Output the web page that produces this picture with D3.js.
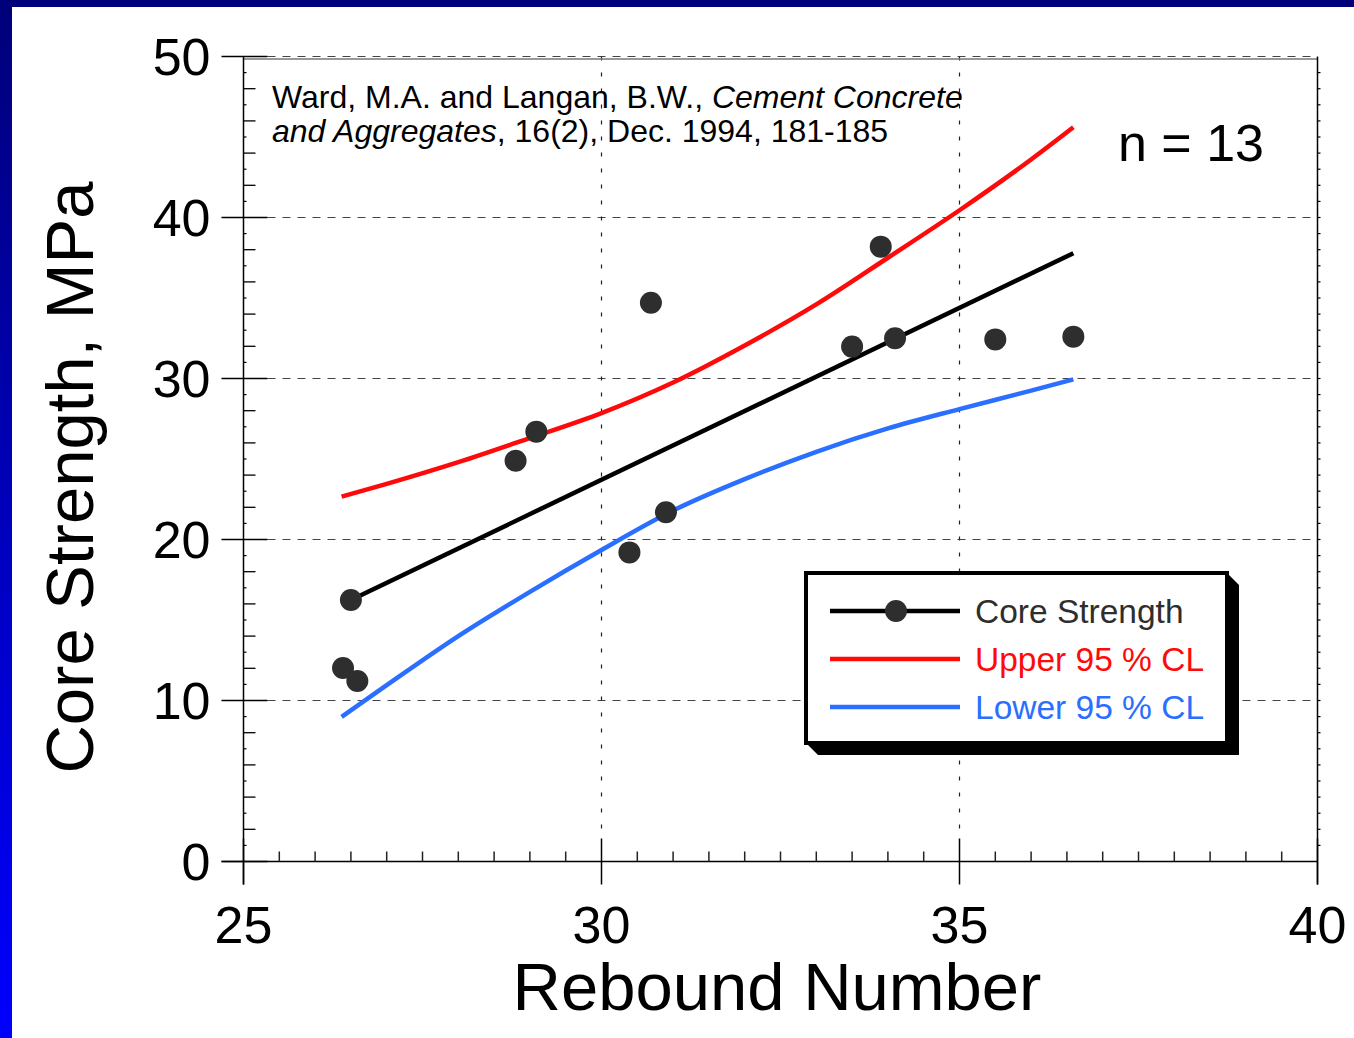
<!DOCTYPE html>
<html><head><meta charset="utf-8">
<script src="https://cdn.jsdelivr.net/npm/d3@7"></script>
<style>html,body{margin:0;padding:0;background:#fff;overflow:hidden}svg{display:block}text{font-family:"Liberation Sans",Arial,sans-serif}</style>
</head><body>
<svg id="c" width="1354" height="1038"></svg>
<script>
// ---- data ----
const xTicks = [25, 30, 35, 40];
const yTicks = [0, 10, 20, 30, 40, 50];
const rebound  = [26.39, 26.50, 26.59, 28.80, 29.09, 30.69, 30.39, 30.90, 33.50, 33.90, 34.10, 35.50, 36.59];
const strength = [12.02, 16.24, 11.21, 24.89, 26.70, 34.71, 19.20, 21.69, 31.98, 38.19, 32.50, 32.43, 32.60];
const fitX = [26.50, 36.59];
const fitY = [16.24, 37.78];
const upperX = [26.37, 27, 28, 29, 30, 31, 32, 33, 34, 35, 36, 36.59];
const upperY = [22.66, 23.45, 24.80, 26.30, 27.85, 29.75, 32.05, 34.60, 37.50, 40.45, 43.60, 45.60];
const lowerX = [26.37, 27, 28, 29, 30, 31, 32, 33, 34, 35, 36, 36.59];
const lowerY = [8.98, 10.95, 14.00, 16.75, 19.35, 21.80, 23.75, 25.45, 26.90, 28.10, 29.25, 29.95];
const legendNames = ["Core Strength", "Upper 95 % CL", "Lower 95 % CL"];
const legendColors = ["#000000", "#ff0a0a", "#2a6fff"];
const legendTextColors = ["#2e2e2e", "#ff0a0a", "#2a6fff"];
const citation1 = [["Ward, M.A. and Langan, B.W., ", "normal"], ["Cement Concrete", "italic"]];
const citation2 = [["and Aggregates", "italic"], [", 16(2), Dec. 1994, 181-185", "normal"]];
const nLabel = "n = 13";
const xTitle = "Rebound Number";
const yTitle = "Core Strength, MPa";

// ---- layout ----
const L = 243.5, R = 1317.5, T = 56.5, B = 861.5;
const x = d3.scaleLinear().domain([25, 40]).range([L, R]);
const y = d3.scaleLinear().domain([0, 50]).range([B, T]);
const svg = d3.select("#c");

// background frame (blue gradient border)
const defs = svg.append("defs");
const g1 = defs.append("linearGradient").attr("id", "lg").attr("x1", 0).attr("y1", 0).attr("x2", 0).attr("y2", 1);
g1.append("stop").attr("offset", "0%").attr("stop-color", "#00007a");
g1.append("stop").attr("offset", "100%").attr("stop-color", "#0000ff");
svg.append("rect").attr("x", 0).attr("y", 0).attr("width", 1354).attr("height", 1038).attr("fill", "#fff");
svg.append("rect").attr("x", 0).attr("y", 0).attr("width", 12).attr("height", 1038).attr("fill", "url(#lg)");
svg.append("rect").attr("x", 0).attr("y", 0).attr("width", 1354).attr("height", 7).attr("fill", "#00007a");

// grid
const gridY = yTicks.filter(v => v > 0);
svg.append("g").selectAll("line").data(gridY).join("line")
  .attr("x1", x(25) + 24).attr("x2", R).attr("y1", d => y(d)).attr("y2", d => y(d))
  .attr("stroke", "#444").attr("stroke-width", 1.2).attr("stroke-dasharray", "8,7");
const gridX = xTicks.filter(v => v > 25 && v < 40);
svg.append("g").selectAll("line").data(gridX).join("line")
  .attr("x1", d => x(d)).attr("x2", d => x(d)).attr("y1", T).attr("y2", B - 23)
  .attr("stroke", "#222").attr("stroke-width", 1.2).attr("stroke-dasharray", "4,12");

// top frame (gray)
svg.append("line").attr("x1", L).attr("x2", R).attr("y1", T + 2.5).attr("y2", T + 2.5).attr("stroke", "#777").attr("stroke-width", 1.5);

// axes lines
svg.append("line").attr("x1", L - 22).attr("x2", R).attr("y1", B).attr("y2", B).attr("stroke", "#000").attr("stroke-width", 1.5);
svg.append("line").attr("x1", L).attr("x2", L).attr("y1", T).attr("y2", B + 23).attr("stroke", "#000").attr("stroke-width", 1.5);
svg.append("line").attr("x1", R).attr("x2", R).attr("y1", T).attr("y2", B + 23).attr("stroke", "#000").attr("stroke-width", 1.5);

// y ticks
svg.append("g").selectAll("line").data(yTicks).join("line")
  .attr("x1", L - 22).attr("x2", L + 24).attr("y1", d => y(d)).attr("y2", d => y(d))
  .attr("stroke", "#000").attr("stroke-width", 1.5);
const yMinor2 = d3.range(0, 51, 2).filter(v => v % 10 !== 0);
svg.append("g").selectAll("line").data(yMinor2).join("line")
  .attr("x1", L).attr("x2", L + 12).attr("y1", d => y(d)).attr("y2", d => y(d))
  .attr("stroke", "#000").attr("stroke-width", 1.3);
const yMinor1 = d3.range(1, 50, 2);
svg.append("g").selectAll("line").data(yMinor1).join("line")
  .attr("x1", L).attr("x2", L + 3).attr("y1", d => y(d)).attr("y2", d => y(d))
  .attr("stroke", "#000").attr("stroke-width", 1.2);
svg.append("g").selectAll("line").data(d3.range(1, 50, 1)).join("line")
  .attr("x1", R).attr("x2", R + 3).attr("y1", d => y(d)).attr("y2", d => y(d))
  .attr("stroke", "#000").attr("stroke-width", 1.2);

// x ticks
svg.append("g").selectAll("line").data(xTicks).join("line")
  .attr("x1", d => x(d)).attr("x2", d => x(d)).attr("y1", B - 23).attr("y2", B + 23)
  .attr("stroke", "#000").attr("stroke-width", 1.5);
const xMinor = d3.range(25.5, 40, 0.5).filter(v => v % 5 !== 0);
svg.append("g").selectAll("line").data(xMinor).join("line")
  .attr("x1", d => x(d)).attr("x2", d => x(d)).attr("y1", B - 10).attr("y2", B)
  .attr("stroke", "#222").attr("stroke-width", 1.5);

// tick labels
svg.append("g").selectAll("text").data(yTicks).join("text")
  .attr("x", L - 33).attr("y", d => y(d)).attr("dy", "0.36em")
  .attr("text-anchor", "end").attr("font-size", 52).attr("fill", "#000").text(d => d);
svg.append("g").selectAll("text").data(xTicks).join("text")
  .attr("x", d => x(d)).attr("y", B + 81)
  .attr("text-anchor", "middle").attr("font-size", 52).attr("fill", "#000").text(d => d);

// axis titles
svg.append("text").attr("x", 777).attr("y", 1010).attr("text-anchor", "middle")
  .attr("font-size", 67).attr("fill", "#000").text(xTitle);
svg.append("text").attr("transform", `translate(93,${(183 + 772) / 2}) rotate(-90)`).attr("text-anchor", "middle")
  .attr("font-size", 67).attr("fill", "#000").text(yTitle);

// citation
const c1 = svg.append("text").attr("x", 272).attr("y", 108).attr("font-size", 32).attr("fill", "#000");
citation1.forEach(([t, s]) => c1.append("tspan").attr("font-style", s).text(t));
const c2 = svg.append("text").attr("x", 272).attr("y", 142).attr("font-size", 32).attr("fill", "#000");
citation2.forEach(([t, s]) => c2.append("tspan").attr("font-style", s).text(t));

svg.append("text").attr("x", 1118).attr("y", 161).attr("font-size", 52).attr("fill", "#000").text(nLabel);

// curves
const line = d3.line().x(d => x(d[0])).y(d => y(d[1])).curve(d3.curveMonotoneX);
svg.append("path").datum(d3.zip(upperX, upperY)).attr("d", line)
  .attr("fill", "none").attr("stroke", legendColors[1]).attr("stroke-width", 4.5).attr("stroke-linejoin", "round");
svg.append("path").datum(d3.zip(lowerX, lowerY)).attr("d", line)
  .attr("fill", "none").attr("stroke", legendColors[2]).attr("stroke-width", 4.5).attr("stroke-linejoin", "round");
svg.append("path").datum(d3.zip(fitX, fitY)).attr("d", line)
  .attr("fill", "none").attr("stroke", legendColors[0]).attr("stroke-width", 4.5);

// points
svg.append("g").selectAll("circle").data(d3.zip(rebound, strength)).join("circle")
  .attr("cx", d => x(d[0])).attr("cy", d => y(d[1])).attr("r", 11).attr("fill", "#2e2e2e");

// legend
const lx0 = 806, ly0 = 573, lx1 = 1227, ly1 = 743, sh = 12;
svg.append("polygon")
  .attr("points", [[lx1, ly0], [lx1 + sh, ly0 + sh], [lx1 + sh, ly1 + sh], [lx0 + sh, ly1 + sh], [lx0, ly1]].map(p => p.join(",")).join(" "))
  .attr("fill", "#000");
svg.append("rect").attr("x", lx0).attr("y", ly0).attr("width", lx1 - lx0).attr("height", ly1 - ly0)
  .attr("fill", "#fff").attr("stroke", "#000").attr("stroke-width", 4);
const items = svg.append("g").selectAll("g").data(legendNames).join("g")
  .attr("transform", (d, i) => `translate(0,${611 + i * 48})`);
items.append("line").attr("x1", 830).attr("x2", 960).attr("y1", 0).attr("y2", 0)
  .attr("stroke", (d, i) => legendColors[i]).attr("stroke-width", 4.5);
items.filter((d, i) => i === 0).append("circle").attr("cx", 896).attr("cy", 0).attr("r", 11).attr("fill", "#2e2e2e");
items.append("text").attr("x", 975).attr("y", 12).attr("font-size", 33.5)
  .attr("fill", (d, i) => legendTextColors[i]).text(d => d);
</script>
</body></html>
